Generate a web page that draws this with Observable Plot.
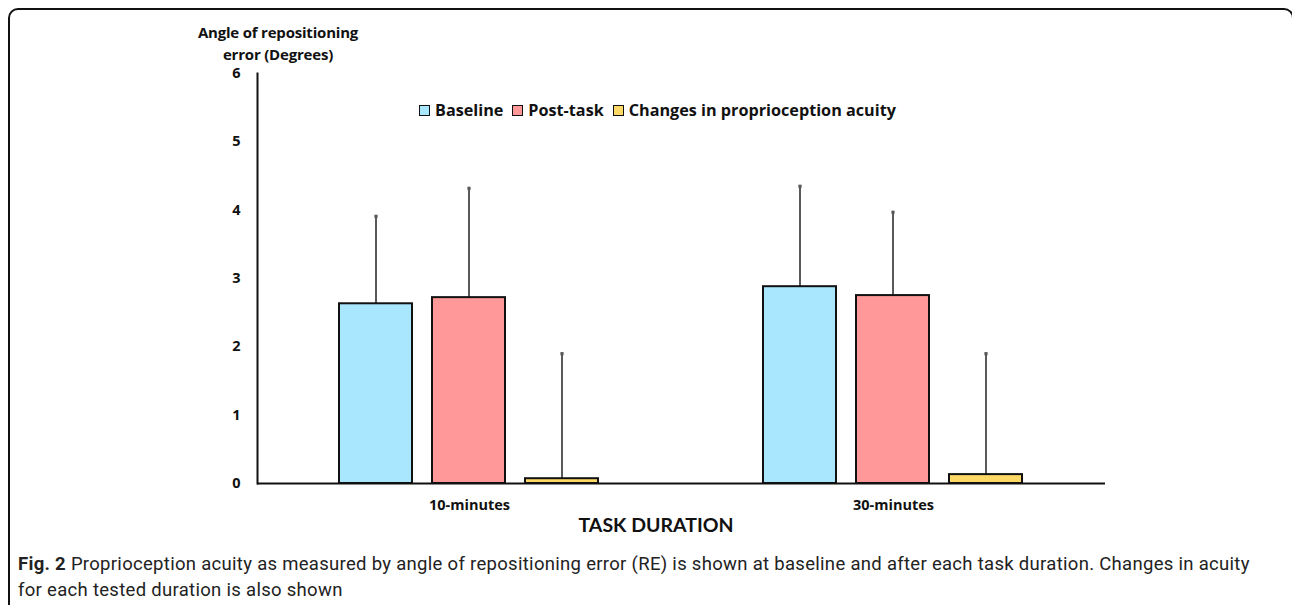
<!DOCTYPE html>
<html><head><meta charset="utf-8">
<script src="https://cdn.jsdelivr.net/npm/d3@7"></script>
<script src="https://cdn.jsdelivr.net/npm/@observablehq/plot@0.6"></script>
<style>
body{margin:0;background:#fff;width:1292px;height:605px;position:relative;overflow:hidden;font-family:"Open Sans",Lato,sans-serif;color:#111;}
#frame{position:absolute;left:8px;top:8px;width:1286px;height:640px;border:2px solid #111;border-top-left-radius:10px;border-top-right-radius:10px;box-sizing:border-box;}
#chart{position:absolute;left:0;top:0;}
#ytitle{position:absolute;left:128px;top:21px;width:300px;text-align:center;font-weight:bold;font-size:15px;line-height:22px;letter-spacing:-0.2px;}
#legend{position:absolute;left:419px;top:99px;display:flex;align-items:center;font-weight:bold;font-size:16.2px;white-space:nowrap;}
#legend .item{display:flex;align-items:center;margin-right:9px;}
#legend .sw{width:9px;height:9px;border:1.5px solid #111;margin-right:5px;}
#xtitle{position:absolute;left:556px;top:513px;width:200px;text-align:center;font-family:Lato,sans-serif;font-weight:bold;font-size:19.5px;}
#caption{position:absolute;left:18px;top:551px;font-family:Roboto,sans-serif;font-size:18.5px;letter-spacing:0.3px;line-height:26px;color:#222;white-space:nowrap;}
</style></head>
<body>
<div id="frame"></div>
<div id="chart"></div>
<div id="ytitle">Angle of repositioning<br>error (Degrees)</div>
<div id="legend"></div>
<div id="xtitle">TASK DURATION</div>
<div id="caption"><b>Fig. 2</b> Proprioception acuity as measured by angle of repositioning error (RE) is shown at baseline and after each task duration. Changes in acuity<br>for each tested duration is also shown</div>
<script>
const durations = ["10-minutes", "30-minutes"];
const series = ["Baseline", "Post-task", "Changes in proprioception acuity"];
const colors = ["#A9E7FF", "#FF9999", "#FFD966"];
const mean10 = [2.63, 2.72, 0.07];
const sd10 = [1.28, 1.60, 1.83];
const mean30 = [2.88, 2.75, 0.13];
const sd30 = [1.47, 1.22, 1.77];
const yTicks = [0, 1, 2, 3, 4, 5, 6];

const data = [];
durations.forEach((d, i) => {
  const m = i ? mean30 : mean10;
  const s = i ? sd30 : sd10;
  series.forEach((k, j) => data.push({duration: d, series: k, mean: m[j], upper: m[j] + s[j]}));
});

const chart = Plot.plot({
  width: 1292, height: 545,
  marginLeft: 256, marginRight: 187, marginTop: 73, marginBottom: 62,
  style: {fontFamily: "'Open Sans', Lato, sans-serif", fontWeight: "bold", fontSize: "14.5px", color: "#111", background: "transparent", overflow: "visible"},
  fx: {domain: durations, padding: 0, label: null, axis: "bottom", tickSize: 0, tickPadding: 16},
  x: {domain: series, paddingInner: 0.21, paddingOuter: 0.874, axis: null},
  y: {domain: [0, 6], ticks: yTicks, tickFormat: d3.format("d"), tickSize: 0, tickPadding: 17, label: null},
  color: {domain: series, range: colors},
  marks: [
    Plot.frame({anchor: "left", facetAnchor: "left", stroke: "#111", strokeWidth: 2}),
    Plot.ruleX(data, {fx: "duration", x: "series", y1: "mean", y2: "upper", stroke: "#595959", strokeWidth: 2}),
    Plot.barY(data, {fx: "duration", x: "series", y: "mean", fill: "series", stroke: "#111", strokeWidth: 2}),
    Plot.dot(data, {fx: "duration", x: "series", y: "upper", symbol: "square", r: 1.8, fill: "#595959"}),
    Plot.ruleY([0], {stroke: "#111", strokeWidth: 2})
  ]
});
document.getElementById("chart").appendChild(chart);

const legend = document.getElementById("legend");
series.forEach((s, i) => {
  const it = document.createElement("div");
  it.className = "item";
  const sw = document.createElement("div");
  sw.className = "sw";
  sw.style.background = colors[i];
  const t = document.createElement("span");
  t.textContent = s;
  it.appendChild(sw); it.appendChild(t);
  legend.appendChild(it);
});
</script>
</body></html>
